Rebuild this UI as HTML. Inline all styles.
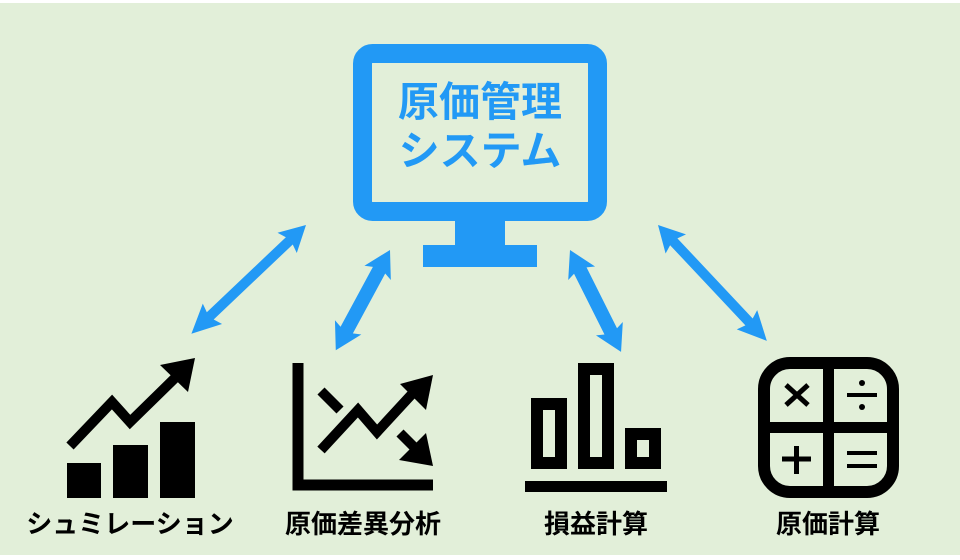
<!DOCTYPE html>
<html><head><meta charset="utf-8"><style>
html,body{margin:0;padding:0;background:#fff}
.c{position:relative;width:960px;height:560px;overflow:hidden}
svg{position:absolute;left:0;top:0}
.t{position:absolute;font-family:"Liberation Sans","Noto Sans CJK JP",sans-serif;font-weight:bold;white-space:nowrap;text-align:center}
</style></head><body><div class="c">
<svg width="960" height="560" viewBox="0 0 960 560">
<rect x="0" y="3" width="960" height="552" fill="#e2efd9"/>
<!-- monitor -->
<rect x="362.5" y="53.5" width="235" height="158" rx="10" fill="none" stroke="#2299f5" stroke-width="19"/>
<rect x="455" y="220" width="50" height="26" fill="#2299f5"/>
<rect x="423" y="245" width="114" height="22" fill="#2299f5"/>
<!-- arrows -->
<g fill="#2299f5">
<polygon transform="translate(306,225) rotate(136.5)" points="0,0 26,-14 23,-5 132,-5 129,-14 158,0 129,14 132,5 23,5 26,14"/>
<polygon transform="translate(390,250) rotate(118.4)" points="0,0 26,-15 23,-7 91,-7 88,-15 114,0 88,15 91,7 23,7 26,15"/>
<polygon transform="translate(570,250) rotate(63.4)" points="0,0 26,-15 23,-7 91,-7 88,-15 114,0 88,15 91,7 23,7 26,15"/>
<polygon transform="translate(658,225) rotate(46.8)" points="0,0 26,-14 23,-5 133,-5 130,-14 159,0 130,14 133,5 23,5 26,14"/>
</g>
<!-- simulation -->
<rect x="67" y="463" width="34" height="35" fill="#000"/>
<rect x="113" y="445" width="35" height="53" fill="#000"/>
<rect x="160" y="422" width="35" height="76" fill="#000"/>
<polyline points="70,446 112,402 130,422 175,378" fill="none" stroke="#000" stroke-width="10"/>
<polygon points="195,358 188,392 160,365" fill="#000"/>
<!-- analysis -->
<polyline points="298,363 298,485 433,485" fill="none" stroke="#000" stroke-width="11"/>
<line x1="321" y1="391" x2="340" y2="410" stroke="#000" stroke-width="10"/>
<polyline points="321,450 358,410 377,432 412,394" fill="none" stroke="#000" stroke-width="10"/>
<polygon points="433,375 426,410 400,384" fill="#000"/>
<line x1="400" y1="433" x2="418" y2="451" stroke="#000" stroke-width="10"/>
<polygon points="433,466 399,460 426,433" fill="#000"/>
<!-- P&L -->
<rect x="537" y="404" width="24" height="59" fill="none" stroke="#000" stroke-width="12"/>
<rect x="584" y="369" width="24" height="94" fill="none" stroke="#000" stroke-width="12"/>
<rect x="631" y="434" width="24" height="29" fill="none" stroke="#000" stroke-width="12"/>
<rect x="525" y="481" width="142" height="11" fill="#000"/>
<!-- calc -->
<rect x="764" y="363" width="129" height="129" rx="26" fill="none" stroke="#000" stroke-width="12"/>
<rect x="823" y="363" width="11" height="129" fill="#000"/>
<rect x="764" y="422" width="129" height="11" fill="#000"/>
<path d="M786,385 L808,405 M808,385 L786,405" stroke="#000" stroke-width="5"/>
<rect x="847" y="393" width="30" height="4" fill="#000"/>
<circle cx="862" cy="383" r="3" fill="#000"/><circle cx="862" cy="407" r="3" fill="#000"/>
<path d="M782,459 L811,459 M796.5,446 L796.5,474" stroke="#000" stroke-width="5"/>
<rect x="847" y="451" width="30" height="4" fill="#000"/>
<rect x="847" y="464" width="30" height="4" fill="#000"/>
</svg>
<div class="t" style="left:372px;top:78px;width:216px;font-size:41px;line-height:49px;color:#2299f5">原価管理<br>システム</div>
<div class="t" style="left:10px;top:508px;width:240px;font-size:26px;line-height:32px">シュミレーション</div>
<div class="t" style="left:263px;top:508px;width:200px;font-size:26px;line-height:32px">原価差異分析</div>
<div class="t" style="left:496px;top:508px;width:200px;font-size:26px;line-height:32px">損益計算</div>
<div class="t" style="left:728px;top:508px;width:200px;font-size:26px;line-height:32px">原価計算</div>
</div></body></html>
